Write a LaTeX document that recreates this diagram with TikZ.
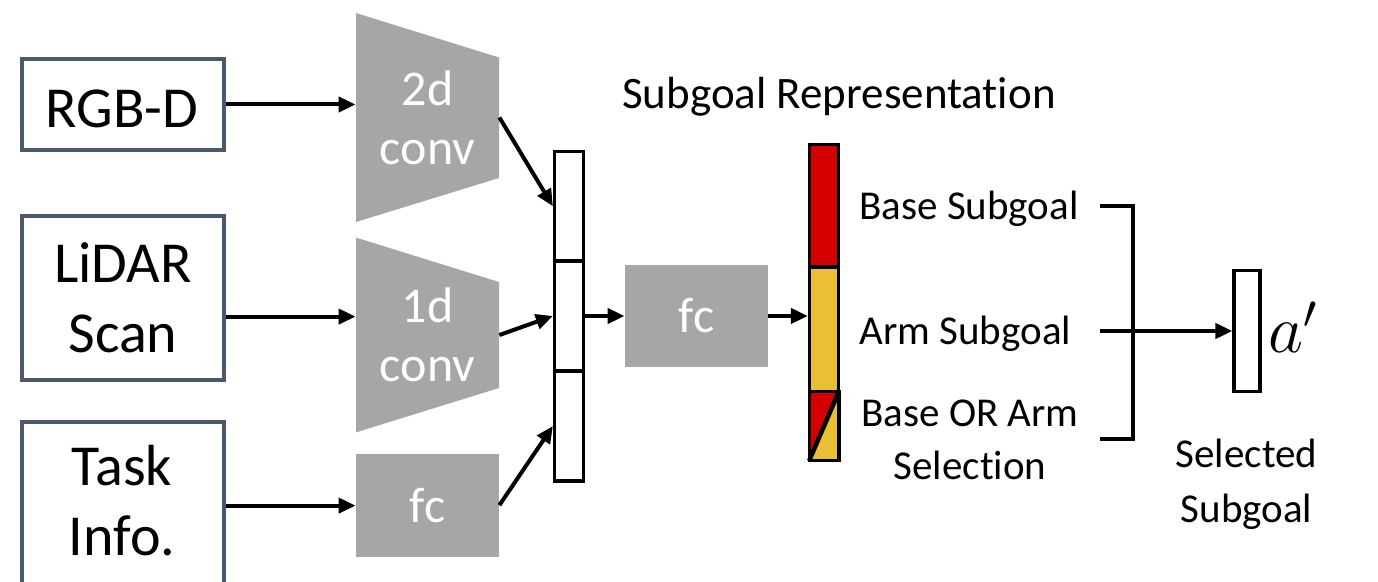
\RequirePackage{fix-cm}
\documentclass[tikz,border=0pt]{standalone}
\usepackage{fontspec}
\setmainfont{Carlito}[Ligatures={NoCommon}]
\usetikzlibrary{arrows.meta,calc}
\definecolor{boxblue}{HTML}{4A5870}
\definecolor{convgray}{HTML}{A6A6A6}
\definecolor{sgred}{HTML}{D40000}
\definecolor{sgyellow}{HTML}{E9BF33}
\begin{document}
\begin{tikzpicture}[x=0.5pt,y=-0.5pt,
  inbox/.style={draw=boxblue,line width=2pt,fill=white,inner sep=0pt,align=center,font=\fontsize{29}{35}\selectfont},
  intext/.style={inner sep=0pt,align=center,font=\fontsize{29}{35}\selectfont},
  graylbl/.style={text=white,inner sep=0pt,align=center,font=\fontsize{25}{29.5}\selectfont},
  fcbox/.style={fill=convgray,inner sep=0pt,text=white,font=\fontsize{25}{29.5}\selectfont},
  seg/.style={draw=black,line width=1.6pt,inner sep=0pt,minimum width=14.5pt},
  arr/.style={-{Triangle[length=8.5pt,width=7.5pt]},line width=2pt},
  lbl/.style={inner sep=0pt,align=center,font=\fontsize{20.5}{26.5}\selectfont},
  bracketline/.style={line width=2.2pt}]
\useasboundingbox (0,0) rectangle (1378,582);
\clip (0,0) rectangle (1378,582);
% inputs
\node[inbox,minimum width=101pt,minimum height=45.5pt] (rgbd) at (123,104.5) {};
\node[intext] (rgbdtxt) at (122,108.5) {RGB-D};
\node[inbox,minimum width=101pt,minimum height=82pt] (lidar) at (123,298) {LiDAR\\Scan};
\node[inbox,minimum width=101pt,minimum height=95pt] (task) at (123,517) {};
\node[intext] (tasktxt) at (122,501) {Task\\Info.};
% encoders
\fill[convgray] (356,13) -- (499,57.5) -- (499,178) -- (356,222) -- cycle;
\node[graylbl,minimum width=71.5pt,minimum height=104.5pt] (conv2d) at (427.5,117.5) {2d\\conv};
\fill[convgray] (356,237.6) -- (499,282) -- (499,388) -- (356,432.4) -- cycle;
\node[graylbl,minimum width=71.5pt,minimum height=97.4pt] (conv1d) at (427.5,335) {1d\\conv};
\node[fcbox,minimum width=71.5pt,minimum height=51.6pt] (fca) at (427.5,505.2) {fc};
% concatenated column
\node[seg,minimum height=54.75pt] (cA) at (569,206.25) {};
\node[seg,minimum height=55pt] (cB) at (569,316) {};
\node[seg,minimum height=55pt] (cC) at (569,426) {};
\node[fcbox,minimum width=71.5pt,minimum height=51pt] (fcb) at (696.5,316) {fc};
% subgoal representation
\node[seg,fill=sgred,minimum height=61.25pt] (sred) at (824,205.75) {};
\node[seg,fill=sgyellow,minimum height=62.5pt] (syel) at (824,329.5) {};
\node[inner sep=0pt,minimum width=14.5pt,minimum height=34.25pt] (smix) at (824,426.25) {};
\fill[sgred] (smix.south west) -- (smix.north west) -- (smix.north east) -- cycle;
\fill[sgyellow] (smix.south west) -- (smix.north east) -- (smix.south east) -- cycle;
\draw[line width=1.6pt] (smix.south west) rectangle (smix.north east);
\draw[line width=2.2pt] (smix.south west) -- (smix.north east);
% output
\node[seg,minimum width=13pt,minimum height=60.5pt] (outv) at (1247,331) {};
% arrows
\draw[arr] (rgbd.east) -- (rgbd.east -| conv2d.west);
\draw[arr] ($(lidar.east)+(0,18.6)$) -- ($(lidar.east -| conv1d.west)+(0,18.6)$);
\draw[arr] ($(task.east)+(0,-11.4)$) -- ($(task.east -| fca.west)+(0,-11.4)$);
\draw[arr] (conv2d.east) -- (cA.west);
\draw[arr] (conv1d.east) -- (cB.west);
\draw[arr] (fca.east) -- (cC.west);
\draw[arr] (cB.east) -- (fcb.west);
\draw[arr] (fcb.east) -- (fcb.east -| syel.west);
% bracket
\coordinate (bkA) at (1100,206);
\coordinate (bkB) at (1133,206);
\coordinate (bkC) at (1133,439);
\coordinate (bkD) at (1100,439);
\coordinate (bmid) at (1100,331);
\draw[bracketline] (bkA) -- (bkB) -- (bkC) -- (bkD);
\draw[arr] (bmid) -- (outv.west);
% labels
\node[lbl,anchor=base,font=\fontsize{22.5}{27}\selectfont] (title) at (839,109) {Subgoal Representation};
\node[lbl,anchor=base west] (lbase) at (859,220) {Base Subgoal};
\node[lbl,anchor=base west] (larm) at (859,345) {Arm Subgoal};
\node[lbl] (lsel) at (970,440) {Base OR Arm\\Selection};
\node[lbl,font=\fontsize{20.5}{27.5}\selectfont] (lout) at (1246.5,484) {Selected\\Subgoal};
\node[inner sep=0pt,anchor=base west,font=\fontsize{34}{40}\selectfont] (aprime) at (1268,353) {$a'$};
\end{tikzpicture}
\end{document}
